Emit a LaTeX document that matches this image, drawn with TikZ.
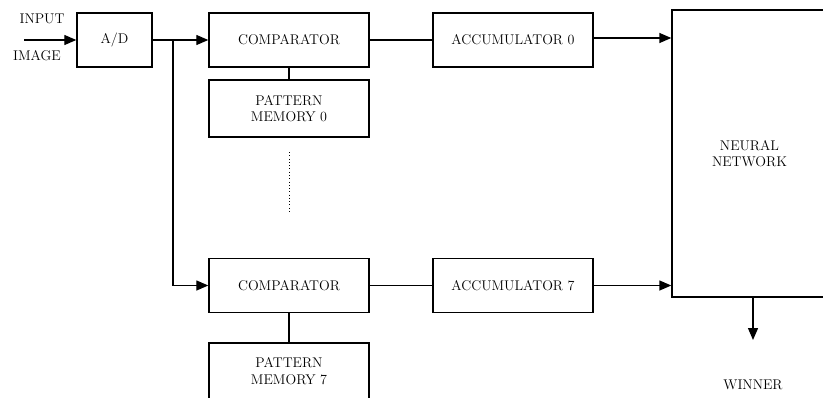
\documentclass[tikz,border=0pt]{standalone}
\usetikzlibrary{arrows.meta}

\begin{document}
\begin{tikzpicture}[x=0.03cm, y=-0.03cm, line width=1.2pt, >={Triangle[length=0.36cm, width=0.3cm]},
	blk/.style={draw, align=center, inner sep=0pt, font=\large, minimum width=4.8cm, minimum height=1.62cm},
	lbl/.style={font=\large, inner sep=0pt}]
\useasboundingbox (0, 0) rectangle (823, 398);

\node[blk, minimum width=2.25cm] at (114.5, 40) (ad) {A/D};
\node[blk] at (289, 40) (cmp0) {COMPARATOR};
\node[blk, minimum height=1.71cm] at (289, 108.5) (pm0) {PATTERN\\MEMORY 0};
\node[blk] at (513, 40) (acc0) {ACCUMULATOR 0};
\node[blk] at (289, 285.5) (cmp7) {COMPARATOR};
\node[blk, minimum height=1.68cm] at (289, 371) (pm7) {PATTERN\\MEMORY 7};
\node[blk] at (513, 285.5) (acc7) {ACCUMULATOR 7};
\node[blk, minimum width=4.65cm, minimum height=8.61cm] at (749.5, 153.5) (nn) {NEURAL\\NETWORK};

\node[lbl] at (42, 19) (inp) {INPUT};
\node[lbl] at (37, 56) (img) {IMAGE};
\node[lbl] at (753, 385) (win) {WINNER};

\coordinate (src) at (24, 40);
\coordinate (br) at (173, 40);
\coordinate (out) at (753, 340);

\draw[->] (src) -- (ad);
\draw (ad) -- (br);
\draw[->] (br) -- (cmp0);
\draw[->] (br) |- (cmp7);
\draw (cmp0) -- (pm0);
\draw (cmp7) -- (pm7);
\draw (cmp0) -- (acc0);
\draw (cmp7) -- (acc7);
\draw[->] (acc0.east |- 0, 38) -- (nn.west |- 0, 38);
\draw[->] (acc7) -- (acc7 -| nn.west);
\draw[->] (out |- nn.south) -- (out);
\draw[dotted, line width=0.8pt] (289, 152) -- (289, 212);

\end{tikzpicture}
\end{document}
